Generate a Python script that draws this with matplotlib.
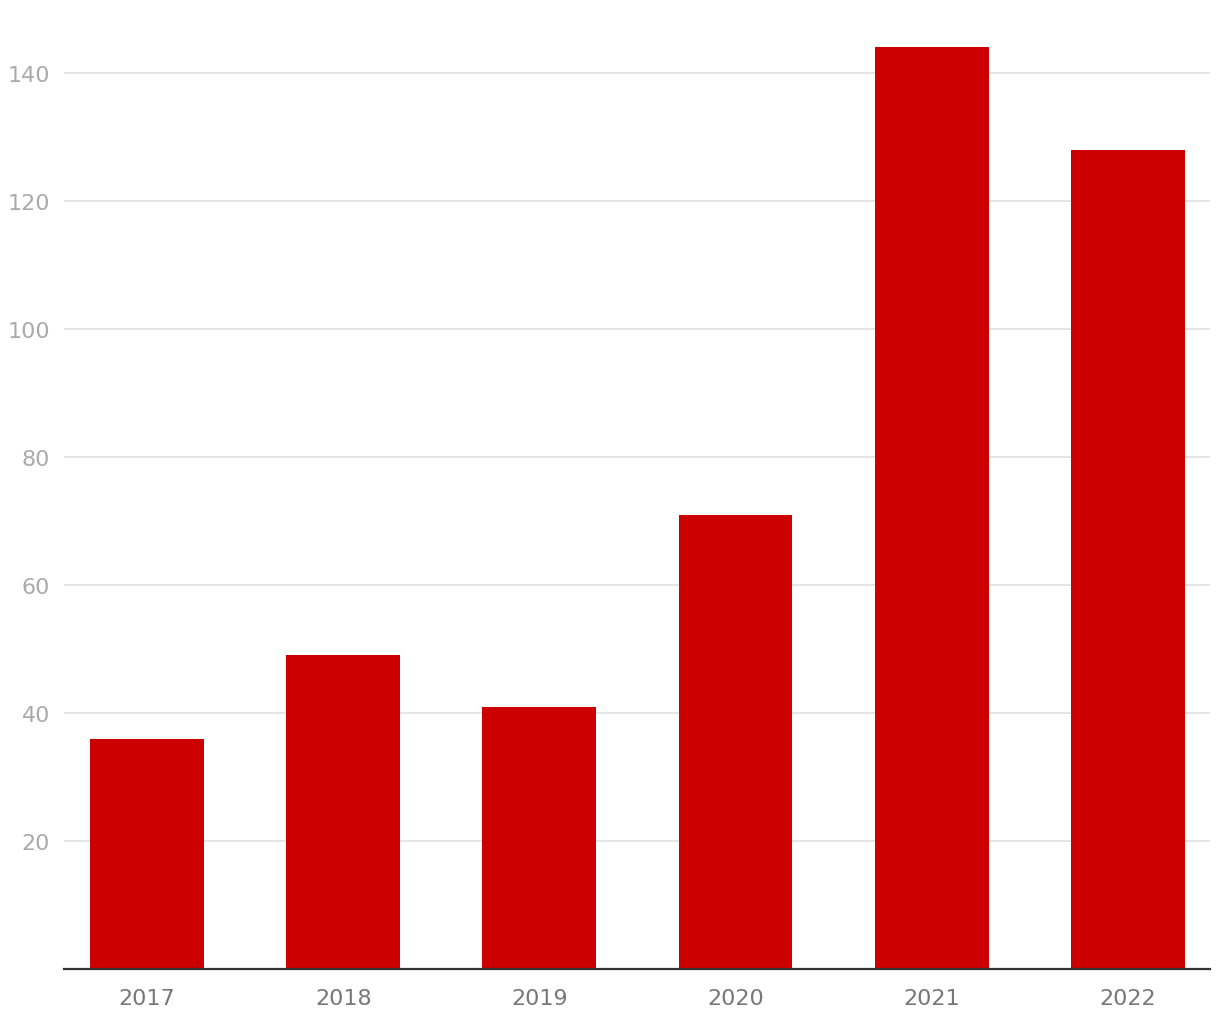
import matplotlib
matplotlib.use("Agg")
import matplotlib.pyplot as plt

years = ["2017", "2018", "2019", "2020", "2021", "2022"]
values = [36, 49, 41, 71, 144, 128]
yticks = [20, 40, 60, 80, 100, 120, 140]

plt.rcParams['font.family'] = ['DejaVu Sans']

fig = plt.figure(figsize=(12.2, 10.2), dpi=100)
ax = fig.add_axes([64/1220, 50/1020, (1210-64)/1220, 960/1020])

x = range(len(years))
ax.bar(x, values, width=0.58, color='#cc0000', zorder=2)

ax.set_xlim(-0.423, len(years) - 1 + 0.418)
ax.set_ylim(0, 150)
ax.set_xticks(list(x))
ax.set_xticklabels(years)
ax.set_yticks(yticks)

ax.grid(axis='y', color='#e0e0e0', linewidth=1.2, zorder=0)
for s in ['top', 'right', 'left']:
    ax.spines[s].set_visible(False)
ax.spines['bottom'].set_color('#333333')
ax.spines['bottom'].set_linewidth(1.6)

ax.tick_params(axis='x', length=0, pad=14, labelsize=16, labelcolor='#777777')
ax.tick_params(axis='y', length=0, pad=10, labelsize=16, labelcolor='#aaaaaa')

fig.savefig("out.png", dpi=100)
